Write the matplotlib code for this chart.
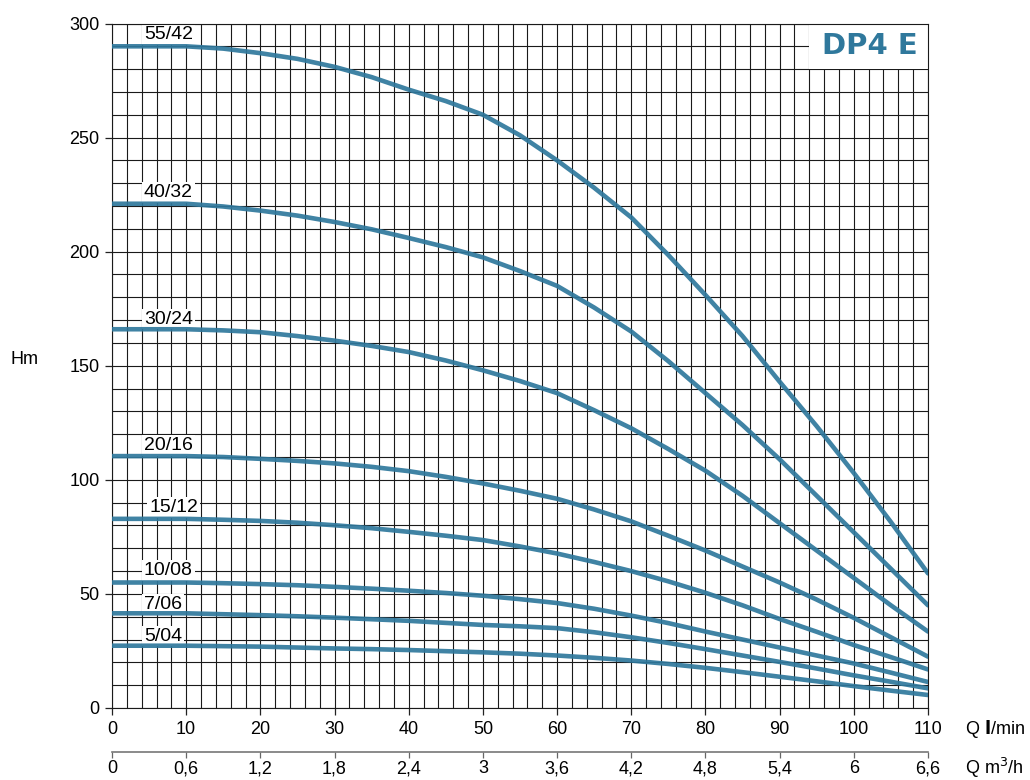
import matplotlib
matplotlib.use("Agg")
import matplotlib.pyplot as plt
from matplotlib.ticker import MultipleLocator, FixedLocator

plt.rcParams['font.family'] = ['Liberation Sans', 'DejaVu Sans']

# Flow (l/min)
Q = [0, 5, 10, 15, 20, 25, 30, 35, 40, 45, 50, 55, 60, 65, 70, 75, 80, 85, 90, 95, 100, 105, 110]

H_55_42 = [290, 290, 290, 289, 287, 284.5, 281, 276.5, 271, 266, 260, 251, 240, 228, 215, 198.5, 181, 163, 143, 123.5, 103, 81.5, 59]
H_40_32 = [221, 221, 221, 219.8, 218, 215.8, 213, 209.8, 206, 202, 197.5, 191.5, 185, 175.5, 165, 152, 138, 124, 109, 93, 77, 61, 45]
H_30_24 = [166, 166, 166, 165.5, 164.7, 163, 161, 158.7, 156, 152.3, 148, 143.3, 138, 130.5, 122.6, 113.5, 104, 93, 81, 69, 57, 45, 33.5]
H_20_16 = [110.4, 110.4, 110.4, 110, 109.2, 108.3, 107.2, 105.7, 103.8, 101.3, 98.4, 95.2, 91.7, 87, 81.8, 75.5, 69, 62, 55, 47.5, 39.5, 31, 22.5]
H_15_12 = [82.9, 82.9, 82.9, 82.5, 82, 81.2, 80.1, 78.8, 77.2, 75.5, 73.6, 70.8, 67.7, 64, 60, 55.5, 50.5, 45, 39, 33.4, 27.6, 22.3, 16.9]
H_10_08 = [55, 55, 55, 54.7, 54.3, 53.8, 53.1, 52.3, 51.4, 50.4, 49.2, 47.7, 46, 43.5, 40.5, 37.2, 33.5, 30, 26.5, 23, 19.5, 15.5, 11.4]
H_7_06 = [41.5, 41.5, 41.5, 41.1, 40.7, 40.2, 39.6, 38.9, 38.2, 37.3, 36.4, 35.8, 35, 33.2, 31, 28.5, 25.8, 23, 20.2, 17.3, 14.3, 11.5, 8.6]
H_5_04 = [27.3, 27.3, 27.3, 27.1, 26.9, 26.5, 26.1, 25.8, 25.4, 24.9, 24.4, 23.8, 23, 22, 20.8, 19.3, 17.6, 15.7, 13.7, 11.7, 9.6, 7.6, 5.7]

curve_names = ["55/42", "40/32", "30/24", "20/16", "15/12", "10/08", "7/06", "5/04"]
curves = [H_55_42, H_40_32, H_30_24, H_20_16, H_15_12, H_10_08, H_7_06, H_5_04]
label_pos = [(4.3, 295), (4.3, 226), (4.3, 170.4), (4.3, 115), (5.0, 87.8), (4.3, 60.2), (4.3, 45.3), (4.3, 31.5)]

x_ticks = [0, 10, 20, 30, 40, 50, 60, 70, 80, 90, 100, 110]
y_ticks = [0, 50, 100, 150, 200, 250, 300]
m3h_ticks = [0, 0.6, 1.2, 1.8, 2.4, 3, 3.6, 4.2, 4.8, 5.4, 6, 6.6]
m3h_labels = ["0", "0,6", "1,2", "1,8", "2,4", "3", "3,6", "4,2", "4,8", "5,4", "6", "6,6"]

blue = '#2f789c'
fs = 13
lfs = 14

fig = plt.figure(figsize=(10.3, 7.8), dpi=100)
ax = fig.add_axes([112/1030, 72/780, 816/1030, (708-23.5)/780])

ax.set_xlim(0, 110)
ax.set_ylim(0, 300)
ax.xaxis.set_major_locator(FixedLocator(x_ticks))
ax.yaxis.set_major_locator(FixedLocator(y_ticks))
ax.xaxis.set_minor_locator(MultipleLocator(2))
ax.yaxis.set_minor_locator(MultipleLocator(10))
ax.grid(which='both', color='#1a1a1a', linewidth=0.8, zorder=1)
ax.set_axisbelow(True)
ax.tick_params(which='major', direction='out', length=5, width=0.9, labelsize=fs, pad=4, color='#222')
ax.tick_params(which='minor', length=0)
for s in ax.spines.values():
    s.set_color('#1a1a1a')
    s.set_linewidth(0.8)

for name, H, (lx, ly) in zip(curve_names, curves, label_pos):
    ax.plot(Q, H, color=blue, linewidth=3.3, solid_capstyle='round', solid_joinstyle='round',
            alpha=0.92, zorder=3)
    ax.text(lx, ly, name, fontsize=lfs, ha='left', va='center', zorder=2.5,
            bbox=dict(facecolor='white', edgecolor='none', pad=1.2))

# Title box
ax.add_patch(plt.Rectangle((94, 280), 16, 20, facecolor='white', edgecolor='none', zorder=2.5))
ax.text(102.2, 290, "DP4 E", fontsize=21, fontweight='bold', color=blue, family='DejaVu Sans',
        ha='center', va='center', zorder=4)

# Secondary axis (m3/h)
sec = ax.secondary_xaxis(-0.0645, functions=(lambda q: q * 0.06, lambda m: m / 0.06))
sec.xaxis.set_major_locator(FixedLocator(m3h_ticks))
sec.set_xticklabels(m3h_labels)
sec.tick_params(direction='out', length=4, width=0.9, labelsize=fs, pad=2, color='#666')
sec.spines['bottom'].set_color('#777')
sec.spines['bottom'].set_linewidth(1.2)

fig.text(965/1030, 1 - 729/780, r"Q $\mathbf{l}$/min", fontsize=fs, ha='left', va='center')
fig.text(965/1030, 1 - 768/780, r"Q m$^3$/h", fontsize=fs, ha='left', va='center')
fig.text(24/1030, 1 - 360/780, "Hm", fontsize=fs, ha='center', va='center')

fig.savefig("out.png", dpi=100)
